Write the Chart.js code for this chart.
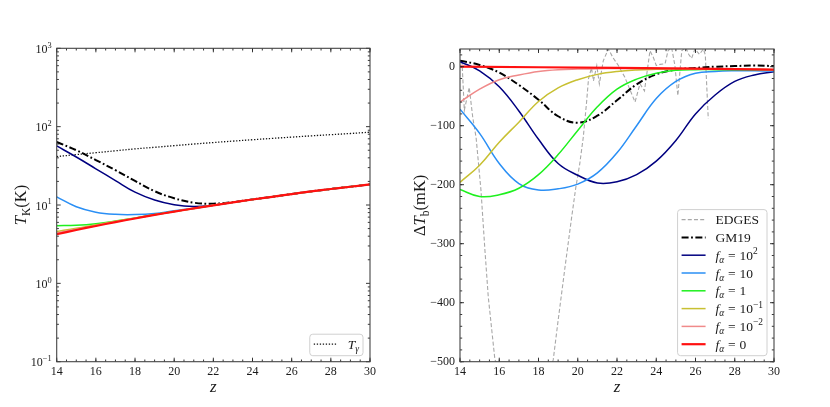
<!DOCTYPE html>
<html>
<head>
<meta charset="utf-8">
<script src="https://cdn.jsdelivr.net/npm/chart.js@4.4.1/dist/chart.umd.min.js"></script>
<style>
  html, body { margin: 0; padding: 0; background: #fff; }
  #wrap { position: relative; width: 830px; height: 407px; overflow: hidden; }
  canvas { position: absolute; top: 0; }
  #tk { left: 0; }
  #dtb { left: 400px; }
</style>
</head>
<body>
<div id="wrap">
  <canvas id="tk" width="415" height="407"></canvas>
  <canvas id="dtb" width="430" height="407"></canvas>
</div>
<script>
const FONT = '"Liberation Serif", "DejaVu Serif", serif';

// redshift grid used by the model curves
const zGrid = [14, 15, 16, 17, 18, 19, 20, 21, 22, 23, 24, 25, 26, 27, 28, 29, 30];

// left panel: kinetic temperature T_K (K)
const tGamma  = [41.5, 44, 46.5, 49.2, 52, 54.5, 57.2, 60, 62.7, 65.4, 68.1, 70.8, 73.5, 76.3, 79, 81.8, 85];
const tkGM19  = [63.7, 50, 37.5, 27.8, 20.3, 15.0, 12.2, 10.7, 10.4, 10.9, 11.8, 12.7, 13.8, 14.9, 16.0, 17.1, 18.3];
const tkF100  = [56.7, 41, 29, 20.5, 14.6, 11.6, 10.1, 9.6, 9.95, 10.8, 11.75, 12.7, 13.8, 14.9, 16.0, 17.1, 18.3];
const tkF10   = [12.7, 9.5, 8.1, 7.6, 7.55, 7.8, 8.45, 9.1, 9.9, 10.8, 11.75, 12.7, 13.8, 14.9, 16.0, 17.1, 18.3];
const tkF1    = [5.45, 5.5, 5.75, 6.25, 6.85, 7.55, 8.28, 9.05, 9.9, 10.8, 11.75, 12.7, 13.8, 14.9, 16.0, 17.1, 18.3];
const tkF01   = [4.6, 5.05, 5.6, 6.2, 6.8, 7.5, 8.25, 9.05, 9.9, 10.8, 11.75, 12.7, 13.8, 14.9, 16.0, 17.1, 18.3];
const tkF001  = [4.4, 4.9, 5.45, 6.12, 6.77, 7.5, 8.25, 9.05, 9.9, 10.8, 11.75, 12.7, 13.8, 14.9, 16.0, 17.1, 18.3];
const tkF0    = [4.23, 4.8, 5.4, 6.05, 6.73, 7.47, 8.24, 9.05, 9.9, 10.8, 11.75, 12.7, 13.8, 14.9, 16.0, 17.1, 18.3];

// right panel: brightness temperature dT_b (mK)
const dtbGM19 = [10, 3, -10, -31, -56, -84, -95, -83, -57, -30, -13, -5, -2, 0, 1, 2, 1];
const dtbF100 = [8.5, -7, -34, -75, -123, -164, -184, -197, -195, -183, -160, -125, -80, -48, -25, -14, -8.5];
const dtbF10  = [-72, -113, -164, -198, -209, -207, -199, -180, -146, -100, -54, -25, -11, -8, -7, -7, -7.5];
const dtbF1   = [-208, -220, -217, -206, -183, -149, -108, -68, -38, -21, -11, -6, -5, -5, -5, -5, -5];
const dtbF01  = [-196, -167, -128, -94, -59, -36, -22, -13, -8, -5.5, -4.5, -4, -4, -4, -4.5, -4.5, -5];
const dtbF001 = [-60, -38, -22, -14, -8, -5, -4, -3.5, -3, -3, -3, -3, -3.5, -3.5, -4, -4.5, -5];
const zRed    = [14, 22, 30];
const dtbF0   = [0, -2, -4.8];

// EDGES profile (goes below the frame between z~15.8 and z~18.7)
const edgesZ = [14.1, 14.22, 14.47, 14.65, 14.82, 15.07, 15.27, 15.44, 15.78, 16.2, 17.0, 18.0, 18.6, 18.75,
  19.0, 19.35, 19.69, 19.9, 20.1, 20.28, 20.45, 20.55, 20.7, 20.8, 20.97, 21.1, 21.3, 21.56, 21.8, 22.07,
  22.4, 22.92, 23.17, 23.4, 23.68, 23.85, 24.0, 24.2, 24.45, 24.6, 24.78, 24.95, 25.1, 25.3, 25.5, 25.65,
  25.8, 25.97, 26.2, 26.4, 26.5, 26.65];
const edgesT = [10, -74, -35, -86, -120, -210, -311, -390, -497, -520, -530, -525, -515, -497,
  -430, -340, -255, -205, -165, -120, -60, -20, -2, -24, 2, -29, 10, 30, 15, 2,
  -18, -60, -29, -41, 27, 16, 2, 4, 5, 27, 33, 2, -49, 27, 33, 21,
  14, 30, 21, 30, 20, -88];

// ticks
const zTicks = [14, 16, 18, 20, 22, 24, 26, 28, 30];
const tkTicks = [0.1, 1, 10, 100, 1000];
const tkTickExps = ['\u22121', '0', '1', '2', '3'];
const dtbTicks = [-500, -400, -300, -200, -100, 0];
const dtbTickLabels = ['\u2212500', '\u2212400', '\u2212300', '\u2212200', '\u2212100', '0'];

const C_NAVY = '#000080';
const C_BLUE = '#2a8ff5';
const C_GREEN = '#1ef01e';
const C_OLIVE = '#c8c032';
const C_PINK = '#f08a8a';
const C_RED = '#ff1010';
const C_GREY = '#a8a8a8';

function pts(xs, ys) {
  return xs.map((x, i) => ({ x: x, y: ys[i] }));
}

function line(data, color, width, dash, smooth) {
  return {
    data: data,
    borderColor: color,
    backgroundColor: color,
    borderWidth: width,
    borderDash: dash || [],
    pointRadius: 0,
    fill: false,
    tension: smooth === false ? 0 : 0.4,
  };
}

// rich text: segments {t, it, sub, sup} or {gap}
function fontOf(s, size) {
  return (s.it ? 'italic ' : '') + ((s.sub || s.sup) ? size * 0.7 : size) + 'px ' + FONT;
}
function segWidth(ctx, s, size) {
  if (s.gap) return s.gap * size;
  ctx.font = fontOf(s, size);
  return ctx.measureText(s.t).width;
}
function richWidth(ctx, segs, size) {
  let w = 0;
  segs.forEach(s => { w += segWidth(ctx, s, size); });
  return w;
}
function drawRich(ctx, segs, x, y, size, align) {
  const w = richWidth(ctx, segs, size);
  let cx = align === 'center' ? x - w / 2 : (align === 'right' ? x - w : x);
  ctx.textAlign = 'left';
  ctx.textBaseline = 'alphabetic';
  segs.forEach(s => {
    if (!s.gap) {
      ctx.font = fontOf(s, size);
      const dy = s.sub ? size * 0.22 : (s.sup ? -size * 0.42 : 0);
      ctx.fillText(s.t, cx, y + dy);
    }
    cx += segWidth(ctx, s, size);
  });
}

// frame, inward ticks, axis titles and legend, matplotlib style
function overlay(cfg) {
  return {
    id: 'overlay',
    afterDatasetsDraw(chart) {
      const ctx = chart.ctx;
      const a = chart.chartArea;
      const xs = chart.scales.x, ys = chart.scales.y;
      ctx.save();
      ctx.strokeStyle = '#222';
      ctx.lineWidth = 0.9;
      ctx.beginPath();
      const mark = (px, py, dx, dy) => { ctx.moveTo(px, py); ctx.lineTo(px + dx, py + dy); };
      cfg.xMajor.forEach(v => { const p = xs.getPixelForValue(v); mark(p, a.bottom, 0, -4); mark(p, a.top, 0, 4); });
      cfg.xMinor.forEach(v => { const p = xs.getPixelForValue(v); mark(p, a.bottom, 0, -2.2); mark(p, a.top, 0, 2.2); });
      cfg.yMajor.forEach(v => { const p = ys.getPixelForValue(v); mark(a.left, p, 4, 0); mark(a.right, p, -4, 0); });
      cfg.yMinor.forEach(v => { const p = ys.getPixelForValue(v); mark(a.left, p, 2.2, 0); mark(a.right, p, -2.2, 0); });
      ctx.stroke();
      ctx.strokeStyle = '#444';
      ctx.lineWidth = 1.1;
      ctx.strokeRect(a.left, a.top, a.width, a.height);
      ctx.restore();
    },
    afterDraw(chart) {
      const ctx = chart.ctx;
      const a = chart.chartArea;
      const ys = chart.scales.y;
      ctx.save();
      ctx.fillStyle = '#1a1a1a';
      // rich y tick labels (powers of ten)
      (cfg.yLabels || []).forEach(l => {
        drawRich(ctx, l.segs, a.left - 5, ys.getPixelForValue(l.v) + 4.5, 12, 'right');
      });
      drawRich(ctx, cfg.xTitle, (a.left + a.right) / 2, 392, 17, 'center');
      ctx.save();
      ctx.translate(cfg.yTitleX, (a.top + a.bottom) / 2);
      ctx.rotate(-Math.PI / 2);
      drawRich(ctx, cfg.yTitle, 0, 6, 16.5, 'center');
      ctx.restore();

      // legend
      const size = 13.5, rowH = 17.8;
      let tw = 0;
      cfg.legend.forEach(e => { tw = Math.max(tw, richWidth(ctx, e.segs, size)); });
      const bw = 38 + tw + 4;
      const bh = (cfg.legend.length - 1) * rowH + 21.5;
      const bx = a.right - 7 - bw, by = a.bottom - 6 - bh;
      ctx.beginPath();
      ctx.roundRect(bx, by, bw, bh, 3);
      ctx.fillStyle = 'rgba(255,255,255,0.85)';
      ctx.fill();
      ctx.strokeStyle = '#d0d0d0';
      ctx.lineWidth = 1;
      ctx.stroke();
      cfg.legend.forEach((e, i) => {
        const ds = chart.data.datasets[e.ds];
        const cy = by + 10 + i * rowH;
        ctx.beginPath();
        ctx.setLineDash(ds.borderDash || []);
        ctx.strokeStyle = ds.borderColor;
        ctx.lineWidth = ds.borderWidth;
        ctx.moveTo(bx + 4, cy);
        ctx.lineTo(bx + 28, cy);
        ctx.stroke();
        ctx.setLineDash([]);
        ctx.fillStyle = '#1a1a1a';
        drawRich(ctx, e.segs, bx + 38, cy + 4.6, size, 'left');
      });
      ctx.restore();
    }
  };
}

const xMinor = [];
for (let z = 14; z <= 30; z += 0.5) xMinor.push(z);
const tkMinor = [];
[0.1, 1, 10, 100].forEach(d => { for (let k = 2; k <= 9; k++) tkMinor.push(d * k); });
const dtbMinor = [];
for (let v = -500; v <= 20; v += 20) dtbMinor.push(v);

const tickFont = { family: FONT, size: 12 };

function xScale() {
  return {
    type: 'linear',
    min: 14,
    max: 30,
    afterBuildTicks: s => { s.ticks = zTicks.map(v => ({ value: v })); },
    afterFit: s => { s.height = 45.3; },
    ticks: { font: tickFont, color: '#1a1a1a', padding: 3, maxRotation: 0, autoSkip: false, callback: v => String(v) },
    grid: { display: false, drawTicks: false },
    border: { display: false },
  };
}

function order(datasets) {
  datasets.forEach((d, i) => { d.order = datasets.length - i; });
  return datasets;
}

const fa = (num, sup) => {
  const segs = [{ t: 'f', it: 1 }, { t: '\u03B1', it: 1, sub: 1 }, { gap: 0.28 }, { t: '=' }, { gap: 0.28 }, { t: num }];
  if (sup) segs.push({ t: sup, sup: 1 });
  return segs;
};

// left panel
const tkDatasets = order([
  line(pts(zGrid, tGamma), '#111', 1.3, [1.3, 1.7]),
  line(pts(zGrid, tkGM19), '#000', 2, [7, 2.5, 1.8, 2.5]),
  line(pts(zGrid, tkF100), C_NAVY, 1.5),
  line(pts(zGrid, tkF10), C_BLUE, 1.5),
  line(pts(zGrid, tkF1), C_GREEN, 1.5),
  line(pts(zGrid, tkF01), C_OLIVE, 1.5),
  line(pts(zGrid, tkF001), C_PINK, 1.5),
  line(pts(zGrid, tkF0), C_RED, 2.2),
]);

new Chart(document.getElementById('tk'), {
  type: 'line',
  data: { datasets: tkDatasets },
  options: {
    responsive: false,
    animation: false,
    layout: { padding: { top: 48.3, right: 45, left: 0, bottom: 0 } },
    plugins: { legend: { display: false }, tooltip: { enabled: false } },
    scales: {
      x: xScale(),
      y: {
        type: 'logarithmic',
        min: 0.1,
        max: 1000,
        afterBuildTicks: s => { s.ticks = tkTicks.map(v => ({ value: v })); },
        afterFit: s => { s.width = 56.7; },
        ticks: { display: false },
        grid: { display: false, drawTicks: false },
        border: { display: false },
      },
    },
  },
  plugins: [overlay({
    xMajor: zTicks, xMinor: xMinor, yMajor: tkTicks, yMinor: tkMinor,
    yLabels: tkTicks.map((v, i) => ({ v: v, segs: [{ t: '10' }, { t: tkTickExps[i], sup: 1 }] })),
    xTitle: [{ t: 'z', it: 1 }],
    yTitle: [{ t: 'T', it: 1 }, { t: 'K', sub: 1 }, { t: '(K)' }],
    yTitleX: 20,
    legend: [{ ds: 0, segs: [{ t: 'T', it: 1 }, { t: '\u03B3', it: 1, sub: 1 }] }],
  })],
});

// right panel
const dtbDatasets = order([
  line(pts(edgesZ, edgesT), C_GREY, 1.1, [4, 2.2], false),
  line(pts(zGrid, dtbGM19), '#000', 2, [7, 2.5, 1.8, 2.5]),
  line(pts(zGrid, dtbF100), C_NAVY, 1.5),
  line(pts(zGrid, dtbF10), C_BLUE, 1.5),
  line(pts(zGrid, dtbF1), C_GREEN, 1.5),
  line(pts(zGrid, dtbF01), C_OLIVE, 1.5),
  line(pts(zGrid, dtbF001), C_PINK, 1.5),
  line(pts(zRed, dtbF0), C_RED, 2.2),
]);

new Chart(document.getElementById('dtb'), {
  type: 'line',
  data: { datasets: dtbDatasets },
  options: {
    responsive: false,
    animation: false,
    layout: { padding: { top: 49, right: 56, left: 0, bottom: 0 } },
    plugins: { legend: { display: false }, tooltip: { enabled: false } },
    scales: {
      x: xScale(),
      y: {
        type: 'linear',
        min: -500,
        max: 30,
        afterBuildTicks: s => { s.ticks = dtbTicks.map(v => ({ value: v })); },
        afterFit: s => { s.width = 60; },
        ticks: {
          font: tickFont, color: '#1a1a1a', padding: 5, autoSkip: false,
          callback: v => { const i = dtbTicks.indexOf(v); return i < 0 ? '' : dtbTickLabels[i]; }
        },
        grid: { display: false, drawTicks: false },
        border: { display: false },
      },
    },
  },
  plugins: [overlay({
    xMajor: zTicks, xMinor: xMinor, yMajor: dtbTicks, yMinor: dtbMinor,
    xTitle: [{ t: 'z', it: 1 }],
    yTitle: [{ t: '\u0394' }, { t: 'T', it: 1 }, { t: 'b', sub: 1 }, { t: '(mK)' }],
    yTitleX: 19,
    legend: [
      { ds: 0, segs: [{ t: 'EDGES' }] },
      { ds: 1, segs: [{ t: 'GM19' }] },
      { ds: 2, segs: fa('10', '2') },
      { ds: 3, segs: fa('10') },
      { ds: 4, segs: fa('1') },
      { ds: 5, segs: fa('10', '\u22121') },
      { ds: 6, segs: fa('10', '\u22122') },
      { ds: 7, segs: fa('0') },
    ],
  })],
});
</script>
</body>
</html>
